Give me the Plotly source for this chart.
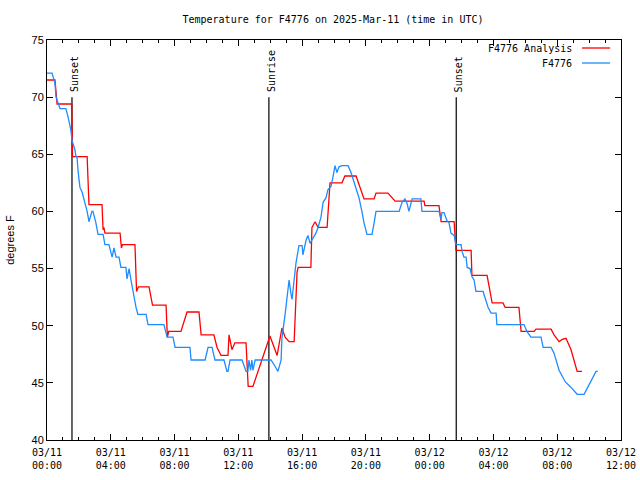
import plotly.graph_objects as go

# ---------------- data ----------------
red_time = [
    "2025-03-11 00:00", "2025-03-11 00:30", "2025-03-11 00:38", "2025-03-11 01:33", "2025-03-11 01:36",
    "2025-03-11 02:31", "2025-03-11 02:38", "2025-03-11 03:27", "2025-03-11 03:31", "2025-03-11 03:34",
    "2025-03-11 03:38", "2025-03-11 04:35", "2025-03-11 04:40", "2025-03-11 04:44", "2025-03-11 05:31",
    "2025-03-11 05:37", "2025-03-11 05:44", "2025-03-11 06:24", "2025-03-11 06:37", "2025-03-11 07:28",
    "2025-03-11 07:33", "2025-03-11 07:38", "2025-03-11 08:24", "2025-03-11 08:35", "2025-03-11 08:47",
    "2025-03-11 09:32", "2025-03-11 09:40", "2025-03-11 10:28", "2025-03-11 10:40", "2025-03-11 10:55",
    "2025-03-11 11:21", "2025-03-11 11:25", "2025-03-11 11:29", "2025-03-11 11:36", "2025-03-11 11:47",
    "2025-03-11 12:29", "2025-03-11 12:37", "2025-03-11 12:55", "2025-03-11 13:59", "2025-03-11 14:26",
    "2025-03-11 14:44", "2025-03-11 14:56", "2025-03-11 15:11", "2025-03-11 15:30", "2025-03-11 15:41",
    "2025-03-11 15:45", "2025-03-11 16:33", "2025-03-11 16:37", "2025-03-11 16:49", "2025-03-11 17:00",
    "2025-03-11 17:34", "2025-03-11 17:45", "2025-03-11 18:30", "2025-03-11 18:41", "2025-03-11 19:23",
    "2025-03-11 19:53", "2025-03-11 20:31", "2025-03-11 20:38", "2025-03-11 21:23", "2025-03-11 21:50",
    "2025-03-11 23:39", "2025-03-11 23:42", "2025-03-12 00:35", "2025-03-12 00:43", "2025-03-12 01:32",
    "2025-03-12 01:39", "2025-03-12 02:36", "2025-03-12 02:39", "2025-03-12 03:36", "2025-03-12 03:55",
    "2025-03-12 04:36", "2025-03-12 04:44", "2025-03-12 05:36", "2025-03-12 05:44", "2025-03-12 06:33",
    "2025-03-12 06:40", "2025-03-12 07:37", "2025-03-12 07:48", "2025-03-12 08:07", "2025-03-12 08:19",
    "2025-03-12 08:33", "2025-03-12 08:52", "2025-03-12 09:15", "2025-03-12 09:33",
]
red_temp = [
    71.5, 71.5, 69.4, 69.4, 64.8,
    64.8, 60.6, 60.6, 58.4, 58.6,
    58.1, 58.1, 56.8, 57.1, 57.1,
    53.0, 53.4, 53.4, 51.8, 51.8,
    49.0, 49.5, 49.5, 50.3, 51.2,
    51.2, 49.2, 49.2, 48.1, 47.4,
    47.4, 49.2, 48.6, 47.9, 48.5,
    48.5, 44.7, 44.7, 49.1, 47.4,
    49.8, 49.0, 48.6, 48.6, 54.7,
    55.1, 55.1, 58.6, 59.1, 58.6,
    58.6, 62.5, 62.5, 63.1, 63.1,
    61.1, 61.1, 61.6, 61.6, 60.9,
    60.9, 60.5, 60.5, 59.1, 59.1,
    56.6, 56.6, 54.4, 54.4, 52.0,
    52.0, 51.6, 51.6, 49.5, 49.5,
    49.7, 49.7, 49.2, 48.6, 48.8,
    48.9, 47.9, 46.0, 46.0,
]

blue_time = [
    "2025-03-11 00:00", "2025-03-11 00:19", "2025-03-11 00:30", "2025-03-11 00:34", "2025-03-11 00:49",
    "2025-03-11 01:11", "2025-03-11 01:19", "2025-03-11 01:30", "2025-03-11 01:34", "2025-03-11 01:45",
    "2025-03-11 01:49", "2025-03-11 01:53", "2025-03-11 01:57", "2025-03-11 02:04", "2025-03-11 02:12",
    "2025-03-11 02:23", "2025-03-11 02:31", "2025-03-11 02:38", "2025-03-11 02:49", "2025-03-11 02:53",
    "2025-03-11 03:04", "2025-03-11 03:12", "2025-03-11 03:31", "2025-03-11 03:38", "2025-03-11 03:53",
    "2025-03-11 04:05", "2025-03-11 04:12", "2025-03-11 04:20", "2025-03-11 04:31", "2025-03-11 04:38",
    "2025-03-11 04:57", "2025-03-11 05:01", "2025-03-11 05:09", "2025-03-11 05:16", "2025-03-11 05:20",
    "2025-03-11 05:27", "2025-03-11 05:35", "2025-03-11 05:42", "2025-03-11 06:13", "2025-03-11 06:20",
    "2025-03-11 07:20", "2025-03-11 07:32", "2025-03-11 07:54", "2025-03-11 08:02", "2025-03-11 08:58",
    "2025-03-11 09:02", "2025-03-11 09:55", "2025-03-11 10:06", "2025-03-11 10:21", "2025-03-11 10:32",
    "2025-03-11 11:06", "2025-03-11 11:17", "2025-03-11 11:21", "2025-03-11 11:29", "2025-03-11 12:14",
    "2025-03-11 12:29", "2025-03-11 12:36", "2025-03-11 12:40", "2025-03-11 12:46", "2025-03-11 12:51",
    "2025-03-11 12:55", "2025-03-11 13:03", "2025-03-11 14:03", "2025-03-11 14:22", "2025-03-11 14:29",
    "2025-03-11 14:41", "2025-03-11 14:44", "2025-03-11 14:56", "2025-03-11 15:03", "2025-03-11 15:11",
    "2025-03-11 15:18", "2025-03-11 15:22", "2025-03-11 15:30", "2025-03-11 15:37", "2025-03-11 15:48",
    "2025-03-11 16:00", "2025-03-11 16:03", "2025-03-11 16:15", "2025-03-11 16:22", "2025-03-11 16:30",
    "2025-03-11 16:37", "2025-03-11 16:52", "2025-03-11 17:00", "2025-03-11 17:11", "2025-03-11 17:19",
    "2025-03-11 17:30", "2025-03-11 17:37", "2025-03-11 17:49", "2025-03-11 17:56", "2025-03-11 18:04",
    "2025-03-11 18:11", "2025-03-11 18:19", "2025-03-11 18:30", "2025-03-11 18:53", "2025-03-11 19:04",
    "2025-03-11 19:15", "2025-03-11 19:23", "2025-03-11 19:34", "2025-03-11 19:45", "2025-03-11 19:53",
    "2025-03-11 20:04", "2025-03-11 20:23", "2025-03-11 20:31", "2025-03-11 20:38", "2025-03-11 22:05",
    "2025-03-11 22:16", "2025-03-11 22:27", "2025-03-11 22:35", "2025-03-11 22:42", "2025-03-11 22:54",
    "2025-03-11 23:27", "2025-03-11 23:31", "2025-03-12 00:35", "2025-03-12 00:43", "2025-03-12 00:46",
    "2025-03-12 00:54", "2025-03-12 01:05", "2025-03-12 01:13", "2025-03-12 01:20", "2025-03-12 01:32",
    "2025-03-12 01:39", "2025-03-12 01:58", "2025-03-12 02:02", "2025-03-12 02:09", "2025-03-12 02:17",
    "2025-03-12 02:21", "2025-03-12 02:32", "2025-03-12 02:39", "2025-03-12 02:47", "2025-03-12 02:54",
    "2025-03-12 03:21", "2025-03-12 03:32", "2025-03-12 03:40", "2025-03-12 03:51", "2025-03-12 04:10",
    "2025-03-12 04:13", "2025-03-12 05:55", "2025-03-12 06:06", "2025-03-12 06:21", "2025-03-12 06:59",
    "2025-03-12 07:07", "2025-03-12 07:37", "2025-03-12 07:48", "2025-03-12 08:07", "2025-03-12 08:30",
    "2025-03-12 08:52", "2025-03-12 09:15", "2025-03-12 09:41", "2025-03-12 10:00", "2025-03-12 10:26",
    "2025-03-12 10:33",
]
blue_temp = [
    72.1, 72.1, 71.2, 70.0, 69.0,
    69.0, 68.3, 67.1, 66.2, 65.4,
    64.8, 64.8, 63.5, 62.1, 61.7,
    60.8, 60.0, 59.1, 60.0, 60.0,
    59.0, 58.0, 58.0, 57.1, 57.1,
    56.0, 56.8, 56.0, 56.0, 55.1,
    55.1, 54.1, 55.0, 54.0, 53.5,
    52.3, 51.6, 51.0, 51.0, 50.1,
    50.1, 49.0, 49.0, 48.1, 48.1,
    47.0, 47.0, 48.1, 48.1, 47.0,
    47.0, 46.0, 46.0, 47.0, 47.0,
    46.0, 46.0, 47.0, 46.1, 47.0,
    46.1, 47.0, 47.0, 46.3, 46.0,
    47.0, 48.9, 51.0, 52.5, 54.0,
    52.8, 52.3, 54.0, 55.5, 57.0,
    57.0, 56.2, 57.5, 57.9, 57.2,
    57.5, 58.1, 58.6, 59.5, 60.8,
    61.2, 61.9, 62.2, 63.0, 64.0,
    63.4, 63.9, 64.0, 64.0, 63.4,
    62.6, 62.1, 61.2, 60.0, 59.0,
    58.0, 58.0, 59.0, 60.0, 60.0,
    60.8, 61.1, 60.7, 60.0, 61.1,
    61.1, 60.0, 60.0, 59.3, 59.9,
    59.9, 59.2, 59.0, 58.1, 57.9,
    57.1, 57.1, 56.5, 56.0, 56.0,
    55.1, 55.0, 54.3, 54.0, 53.0,
    53.0, 52.1, 51.6, 51.1, 51.1,
    50.1, 50.1, 49.5, 49.0, 49.0,
    48.1, 48.1, 47.6, 46.1, 45.1,
    44.6, 44.0, 44.0, 44.8, 46.0,
    46.0,
]

event_time = ["2025-03-11 01:34", "2025-03-11 13:55", "2025-03-12 01:40"]
event_label = ["Sunset", "Sunrise", "Sunset"]
event_top = 70

x_tickvals = ["2025-03-11 00:00", "2025-03-11 04:00", "2025-03-11 08:00", "2025-03-11 12:00",
              "2025-03-11 16:00", "2025-03-11 20:00", "2025-03-12 00:00", "2025-03-12 04:00",
              "2025-03-12 08:00", "2025-03-12 12:00"]
x_ticktext = ["03/11<br>00:00", "03/11<br>04:00", "03/11<br>08:00", "03/11<br>12:00",
              "03/11<br>16:00", "03/11<br>20:00", "03/12<br>00:00", "03/12<br>04:00",
              "03/12<br>08:00", "03/12<br>12:00"]
y_min, y_max = 40, 75

series_names = ["F4776 Analysis", "F4776"]
RED = "#ff0000"
BLUE = "#1e8cff"
MONO = "DejaVu Sans Mono"
SANS = "Liberation Sans"

fig = go.Figure()

# event vertical lines
for t in event_time:
    fig.add_trace(go.Scatter(x=[t, t], y=[y_min, event_top], mode="lines",
                             line=dict(color="black", width=1.2), showlegend=False,
                             hoverinfo="skip"))

fig.add_trace(go.Scatter(x=red_time, y=red_temp, mode="lines", name=series_names[0],
                         line=dict(color=RED, width=1.3), showlegend=False))
fig.add_trace(go.Scatter(x=blue_time, y=blue_temp, mode="lines", name=series_names[1],
                         line=dict(color=BLUE, width=1.3), showlegend=False))

annotations = []
for t, lab in zip(event_time, event_label):
    annotations.append(dict(x=t, y=event_top, xref="x", yref="y", text=lab, textangle=-90,
                            showarrow=False, xanchor="center", yanchor="bottom",
                            xshift=2, yshift=3, font=dict(family=MONO, size=10, color="black")))

# custom legend (gnuplot style: text then line sample on the right)
leg_y = [0.98, 0.9425]
for name, col, yy in zip(series_names, [RED, BLUE], leg_y):
    annotations.append(dict(x=0.918, y=yy, xref="paper", yref="paper", text=name,
                            showarrow=False, xanchor="right", yanchor="middle",
                            font=dict(family=MONO, size=10, color="black")))
    fig.add_shape(type="line", xref="paper", yref="paper", x0=0.932, x1=0.981, y0=yy, y1=yy,
                  line=dict(color=col, width=1.3))

fig.update_layout(
    width=640, height=480, autosize=False,
    margin=dict(l=47, r=19, t=40, b=40, autoexpand=False),
    paper_bgcolor="white", plot_bgcolor="white",
    title=dict(text="Temperature for F4776 on 2025-Mar-11 (time in UTC)",
               x=0.5203, xanchor="center", xref="container",
               y=0.96, yanchor="middle", yref="container",
               font=dict(family=MONO, size=10, color="black")),
    annotations=annotations,
    showlegend=False,
)

fig.update_xaxes(
    type="date", range=[x_tickvals[0], x_tickvals[-1]], automargin=False,
    tickmode="array", tickvals=x_tickvals, ticktext=x_ticktext,
    ticks="inside", ticklen=6, tickcolor="black", tickwidth=1,
    showline=True, linecolor="black", linewidth=1, mirror="ticks",
    showgrid=False, zeroline=False, ticklabelstandoff=3,
    tickfont=dict(family=MONO, size=10, color="black"),
    minor=dict(ticks="inside", ticklen=3, dtick=3600000, tick0=x_tickvals[0],
               tickcolor="black", showgrid=False),
)
fig.update_yaxes(
    range=[y_min, y_max], dtick=5, tick0=40, automargin=False,
    ticks="inside", ticklen=6, tickcolor="black", tickwidth=1,
    showline=True, linecolor="black", linewidth=1, mirror="ticks",
    showgrid=False, zeroline=False,
    tickfont=dict(family=SANS, size=11, color="black"),
    title=dict(text="degrees F", standoff=14, font=dict(family=SANS, size=11, color="black")),
)

fig.write_html("out.html", config={"displayModeBar": False},
               post_script="document.body.style.margin='0';")
